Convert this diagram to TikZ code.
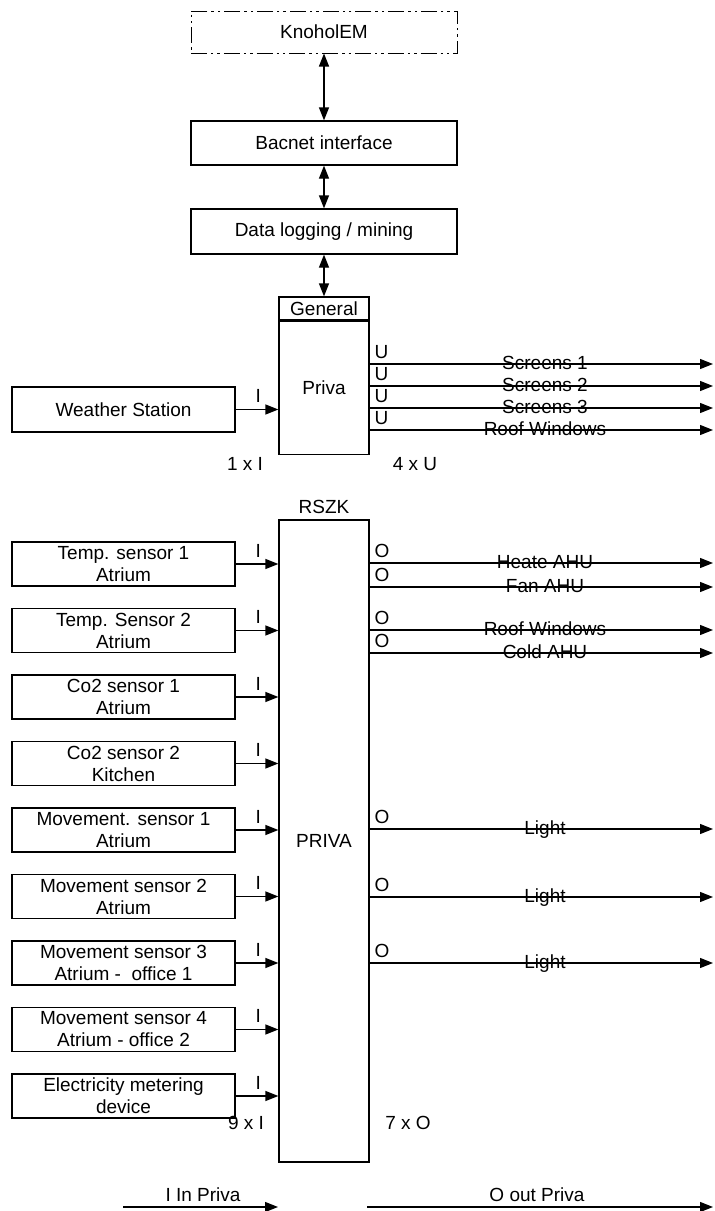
\documentclass[tikz,border=0pt]{standalone}
\usepackage{fontspec}
\setmainfont{Liberation Sans}
\usetikzlibrary{arrows.meta,positioning}

\begin{document}
\begin{tikzpicture}[
  x=0.5pt, y=-0.5pt, line width=0.65pt,
  every node/.style={font=\fontsize{9.5}{11}\selectfont},
  box/.style={draw, minimum width=133pt, minimum height=22pt, inner sep=1pt, align=center},
  sensor/.style={draw, minimum width=111.5pt, minimum height=22pt, inner sep=1pt, align=center},
  unit/.style={draw, minimum width=45pt, inner sep=0pt},
  tag/.style={inner sep=0pt, anchor=base west},
  arr/.style={-{Triangle[length=6.5pt,width=5pt]}},
  darr/.style={{Triangle[length=6.5pt,width=5pt]}-{Triangle[length=6.5pt,width=5pt]}},
]
\useasboundingbox (0,0) rectangle (714,1211);

% top chain
\node[box, minimum height=21pt, line width=0.5pt,
  dash pattern=on 8pt off 2pt on 1.2pt off 2pt on 1.2pt off 2pt]
  (knohol) at (324,32) {KnoholEM};
\node[box] (bacnet) at (324,143) {Bacnet interface};
\node[box, minimum height=22.5pt] (logging) at (324,231.5) {Data logging / mining};
\node[unit, minimum height=11.5pt] (general) at (324,308.5) {General};
\node[unit, minimum height=66.5pt, below=0pt of general] (priva) {Priva};
\draw[darr] (knohol) -- (bacnet);
\draw[darr] (bacnet) -- (logging);
\draw[darr] (logging) -- (general);

% weather station
\node[sensor, minimum height=22.5pt] (weather) at (123.5,409.5) {Weather Station};
\draw[arr] (weather.east) -- (priva.west |- weather.east);
\node[tag] (wi) at (255,402) {I};
\node (wcount) at (245,464) {1 x I};
\node (ucount) at (415,464) {4 x U};
\foreach \y/\lab [count=\i] in {364/Screens 1, 386/Screens 2, 408/Screens 3, 430/Roof Windows}{
  \coordinate (u\i) at (713,\y);
  \draw[arr] (priva.east |- u\i) -- (u\i);
  \node[tag] (ut\i) at (374,\y-6) {U};
  \node[anchor=base, inner sep=0pt] (ul\i) at (545,\y+5) {\lab};
}

% RSZK
\node (rszklab) at (324,507) {RSZK};
\node[unit, minimum height=321pt] (rszk) at (324,841) {PRIVA};
\foreach \txt [count=\k] in {{Temp. sensor 1\\Atrium}, {Temp. Sensor 2\\Atrium},
  {Co2 sensor 1\\Atrium}, {Co2 sensor 2\\Kitchen}, {Movement. sensor 1\\Atrium},
  {Movement sensor 2\\Atrium}, {Movement sensor 3\\Atrium -\ \ office 1},
  {Movement sensor 4\\Atrium - office 2}, {Electricity metering\\device}}{
  \node[sensor] (s\k) at (123.5,{564+66.5*(\k-1)}) {\txt};
  \draw[arr] (s\k.east) -- (rszk.west |- s\k.east);
  \node[tag] (si\k) at (255,{557+66.5*(\k-1)}) {I};
}
\foreach \y/\lab [count=\i] in {563/Heate AHU, 587/Fan AHU, 630/Roof Windows, 653/Cold AHU,
  829/Light, 897/Light, 963/Light}{
  \coordinate (o\i) at (713,\y);
  \draw[arr] (rszk.east |- o\i) -- (o\i);
  \node[tag] (ot\i) at (374,\y-6) {O};
  \node[anchor=base, inner sep=0pt] (ol\i) at (545,\y+5) {\lab};
}
\node (icount) at (246,1123) {9 x I};
\node (ocount) at (408,1123) {7 x O};

% legend
\coordinate (ina) at (123,1207);
\coordinate (inb) at (278,1207);
\coordinate (outa) at (367,1207);
\coordinate (outb) at (713,1207);
\draw[arr] (ina) -- (inb);
\draw[arr] (outa) -- (outb);
\node (inlab) at (203,1195) {I In Priva};
\node (outlab) at (537,1195) {O out Priva};
\end{tikzpicture}
\end{document}
